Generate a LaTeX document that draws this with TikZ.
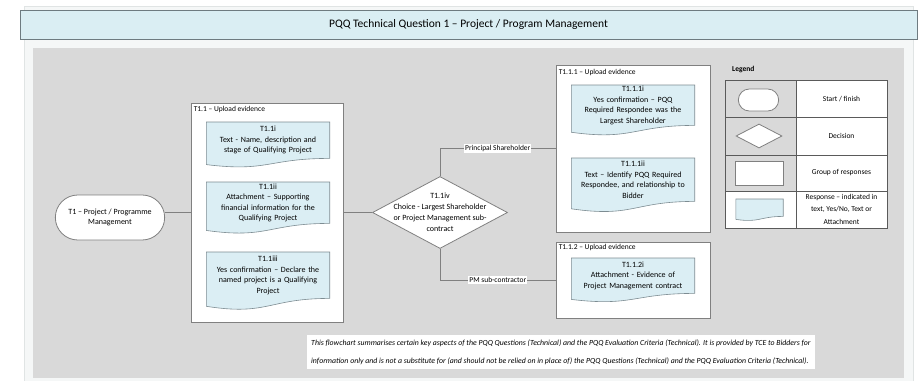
\documentclass[tikz,border=0pt]{standalone}
\usepackage{fontspec}
\setmainfont{Carlito}
\usetikzlibrary{positioning, calc, shapes.geometric, shapes.misc}

\definecolor{pagegrey}{HTML}{F5F7F7}
\definecolor{pageline}{HTML}{E0E4E4}
\definecolor{areagrey}{HTML}{D9D9D9}
\definecolor{hdrblue}{HTML}{DAEEF3}
\definecolor{hdrline}{HTML}{6E7B80}
\definecolor{respblue}{HTML}{DBEEF4}
\definecolor{respline}{HTML}{7D8C92}
\definecolor{boxline}{HTML}{808080}
\definecolor{tblline}{HTML}{5A5A5A}

\pgfdeclarelayer{back}
\pgfdeclarelayer{mid}
\pgfsetlayers{back,mid,main}

\tikzset{
  grp/.style={draw=boxline, fill=white, line width=0.9pt, inner sep=0pt},
  grplbl/.style={font=\fontsize{7.5}{9}\selectfont, inner sep=0pt},
  resp/.style={text width=115pt, align=center, minimum width=123pt, inner sep=0pt,
    font=\fontsize{8}{10.5}\selectfont, anchor=north},
  respshape/.style={draw=respline, fill=respblue, line width=0.6pt},
  term/.style={rounded rectangle, draw=boxline, fill=white, line width=0.8pt,
    align=center, font=\fontsize{8}{10.5}\selectfont},
  dec/.style={diamond, draw=boxline, fill=white, line width=0.8pt, inner sep=0pt},
  conn/.style={draw=boxline, line width=0.8pt},
  connlbl/.style={fill=white, inner sep=1pt, font=\fontsize{7.5}{9}\selectfont},
  lgtxt/.style={align=center, font=\fontsize{7.5}{12.5}\selectfont}
}

\begin{document}
\begin{tikzpicture}[x=1pt, y=-1pt]
  \useasboundingbox (0,0) rectangle (923,380);

  % page, grey area and header
  \begin{pgfonlayer}{back}
    \filldraw[fill=pagegrey, draw=pageline] (24,6) rectangle (913,390);
    \fill[areagrey] (33,48) rectangle (904,378);
    \node[grp, minimum width=152, minimum height=219] (g11) at (267,212.5) {};
    \node[grp, minimum width=154, minimum height=167] (g111) at (633,148.5) {};
    \node[grp, minimum width=154, minimum height=76] (g112) at (633,280) {};
    % legend table
    \fill[white] (796,80) rectangle (887,228);
    \fill[white] (725,191) rectangle (796,228);
    \draw[tblline, line width=0.8pt] (725,80) rectangle (887,228) (796,80) -- (796,228);
    \foreach \y in {117,155,191}
      \draw[tblline, line width=0.8pt] (725,\y) -- (887,\y);
  \end{pgfonlayer}

  \node[draw=hdrline, fill=hdrblue, line width=1pt, minimum width=897, minimum height=29,
    font=\fontsize{11.5}{13}\selectfont] (title) at (468.5,24.5)
    {PQQ Technical Question 1 – Project / Program Management};

  % start
  \node[term, minimum width=116, minimum height=45] (t1) at (110,217.5)
    {T1 – Project / Programme\\Management};

  % group T1.1
  \node[grplbl, below right=4pt and 3pt of g11.north west] (g11lbl) {T1.1 – Upload evidence};
  \node[resp, minimum height=36] (r11i) at (268,122)
    {T1.1i\\Text - Name, description and\\stage of Qualifying Project};
  \node[resp, minimum height=41] (r11ii) at (268,182)
    {T1.1ii\\Attachment – Supporting\\financial information for the\\Qualifying Project};
  \node[resp, minimum height=46] (r11iii) at (268,252)
    {T1.1iii\\Yes confirmation – Declare the\\named project is a Qualifying\\Project};

  % decision
  \node[dec, minimum width=135, minimum height=72] (d1) at (440,212.5) {};
  \node[align=center, font=\fontsize{8}{11}\selectfont, inner sep=0pt] (d1txt) at (d1.center)
    {T1.1iv\\Choice - Largest Shareholder\\or Project Management sub-\\contract};

  % group T1.1.1
  \node[grplbl, below right=5pt and 3pt of g111.north west] (g111lbl) {T1.1.1 – Upload evidence};
  \node[resp, minimum height=40] (r111i) at (633,85)
    {T1.1.1i\\Yes confirmation – PQQ\\Required Respondee was the\\Largest Shareholder};
  \node[resp, minimum height=43] (r111ii) at (633,158)
    {T1.1.1ii\\Text – Identify PQQ Required\\Respondee, and relationship to\\Bidder};

  % group T1.1.2
  \node[grplbl, below right=3pt and 3pt of g112.north west] (g112lbl) {T1.1.2 – Upload evidence};
  \node[resp, minimum height=35] (r112i) at (633,258)
    {T1.1.2i\\Attachment - Evidence of\\Project Management contract};

  % connectors
  \draw[conn] (t1.east |- g11.west) -- (g11.west);
  \draw[conn] (g11.east) -- (d1.west);
  \draw[conn] (d1.north) |- node[connlbl, pos=0.75] {Principal Shareholder} (g111.west);
  \draw[conn] (d1.south) |- node[connlbl, pos=0.75] {PM sub-contractor} (g112.west);

  % legend
  \node[anchor=west, inner sep=0pt, font=\bfseries\fontsize{7.5}{9}\selectfont] (lgd) at (732,70) {Legend};
  \node[term, minimum width=47, minimum height=22] (lgterm) at (758.5,100) {};
  \node[dec, minimum width=46, minimum height=24] (lgdec) at (759,136) {};
  \node[draw=boxline, fill=white, line width=0.9pt, minimum width=48, minimum height=24] (lggrp) at (759,173) {};
  \node[resp, text width=40pt, minimum width=47, minimum height=17] (lgresp) at (759.5,199) {};
  \node[lgtxt] (lgt1) at (841.5,99) {Start / finish};
  \node[lgtxt] (lgt2) at (841.5,136) {Decision};
  \node[lgtxt] (lgt3) at (841.5,173) {Group of responses};
  \node[lgtxt] (lgt4) at (841.5,209) {Response – indicated in\\text, Yes/No, Text or\\Attachment};

  % response shapes
  \begin{pgfonlayer}{mid}
    \foreach \r in {r11i,r11ii,r11iii,r111i,r111ii,r112i,lgresp}
      \filldraw[respshape] (\r.north west) -- (\r.north east) -- (\r.south east)
        .. controls (\r.south) and ($(\r.north)!1.38!(\r.south)$)
        .. ($(\r.north west)!1.17!(\r.south west)$) -- cycle;
  \end{pgfonlayer}

  % note
  \node[fill=white, anchor=west, align=left, inner xsep=4pt, minimum height=34,
    font=\itshape\fontsize{7.8}{18}\selectfont] (note) at (307,352)
    {This flowchart summarises certain key aspects of the PQQ Questions (Technical) and the PQQ Evaluation Criteria (Technical). It is provided by TCE to Bidders for\\
     information only and is not a substitute for (and should not be relied on in place of) the PQQ Questions (Technical) and the  PQQ Evaluation Criteria (Technical).};
\end{tikzpicture}
\end{document}
